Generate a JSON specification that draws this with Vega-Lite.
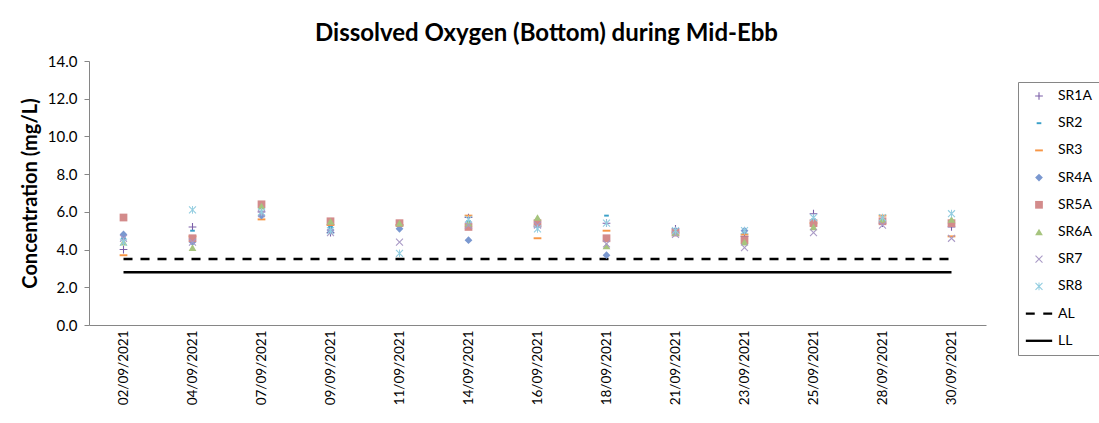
{
  "$schema": "https://vega.github.io/schema/vega-lite/v6.json",
  "width": 897,
  "height": 264,
  "autosize": {"type": "none"},
  "padding": {"left": 89, "top": 61, "right": 113, "bottom": 98},
  "background": "white",
  "config": {"view": {"stroke": null}, "font": "Lato"},
  "title": {"text": "Dissolved Oxygen (Bottom) during Mid-Ebb", "fontSize": 24, "fontWeight": "bold", "font": "Lato", "color": "#000000", "anchor": "middle", "dx": 9, "offset": 8},
  "datasets": {
    "pts": [
      {"d":"02/09/2021","s":"SR1A","v":4.0},{"d":"02/09/2021","s":"SR2","v":4.6},{"d":"02/09/2021","s":"SR3","v":3.7},{"d":"02/09/2021","s":"SR4A","v":4.8},{"d":"02/09/2021","s":"SR5A","v":5.7},{"d":"02/09/2021","s":"SR6A","v":4.4},{"d":"02/09/2021","s":"SR7","v":4.6},{"d":"02/09/2021","s":"SR8","v":4.4},
      {"d":"04/09/2021","s":"SR1A","v":5.2},{"d":"04/09/2021","s":"SR2","v":5.0},{"d":"04/09/2021","s":"SR3","v":4.7},{"d":"04/09/2021","s":"SR4A","v":4.4},{"d":"04/09/2021","s":"SR5A","v":4.6},{"d":"04/09/2021","s":"SR6A","v":4.1},{"d":"04/09/2021","s":"SR7","v":4.4},{"d":"04/09/2021","s":"SR8","v":6.1},
      {"d":"07/09/2021","s":"SR1A","v":6.0},{"d":"07/09/2021","s":"SR2","v":5.8},{"d":"07/09/2021","s":"SR3","v":5.6},{"d":"07/09/2021","s":"SR4A","v":5.8},{"d":"07/09/2021","s":"SR5A","v":6.4},{"d":"07/09/2021","s":"SR6A","v":6.3},{"d":"07/09/2021","s":"SR7","v":5.9},{"d":"07/09/2021","s":"SR8","v":6.0},
      {"d":"09/09/2021","s":"SR1A","v":4.9},{"d":"09/09/2021","s":"SR2","v":5.2},{"d":"09/09/2021","s":"SR3","v":5.3},{"d":"09/09/2021","s":"SR4A","v":5.0},{"d":"09/09/2021","s":"SR5A","v":5.5},{"d":"09/09/2021","s":"SR6A","v":5.5},{"d":"09/09/2021","s":"SR7","v":4.9},{"d":"09/09/2021","s":"SR8","v":5.0},
      {"d":"11/09/2021","s":"SR1A","v":5.3},{"d":"11/09/2021","s":"SR2","v":5.3},{"d":"11/09/2021","s":"SR3","v":5.3},{"d":"11/09/2021","s":"SR4A","v":5.1},{"d":"11/09/2021","s":"SR5A","v":5.4},{"d":"11/09/2021","s":"SR6A","v":5.4},{"d":"11/09/2021","s":"SR7","v":4.4},{"d":"11/09/2021","s":"SR8","v":3.8},
      {"d":"14/09/2021","s":"SR1A","v":5.7},{"d":"14/09/2021","s":"SR2","v":5.5},{"d":"14/09/2021","s":"SR3","v":5.8},{"d":"14/09/2021","s":"SR4A","v":4.5},{"d":"14/09/2021","s":"SR5A","v":5.2},{"d":"14/09/2021","s":"SR6A","v":5.4},{"d":"14/09/2021","s":"SR7","v":5.3},{"d":"14/09/2021","s":"SR8","v":5.6},
      {"d":"16/09/2021","s":"SR1A","v":5.2},{"d":"16/09/2021","s":"SR2","v":5.3},{"d":"16/09/2021","s":"SR3","v":4.6},{"d":"16/09/2021","s":"SR4A","v":5.3},{"d":"16/09/2021","s":"SR5A","v":5.4},{"d":"16/09/2021","s":"SR6A","v":5.7},{"d":"16/09/2021","s":"SR7","v":5.3},{"d":"16/09/2021","s":"SR8","v":5.1},
      {"d":"18/09/2021","s":"SR1A","v":5.4},{"d":"18/09/2021","s":"SR2","v":5.8},{"d":"18/09/2021","s":"SR3","v":5.0},{"d":"18/09/2021","s":"SR4A","v":3.7},{"d":"18/09/2021","s":"SR5A","v":4.6},{"d":"18/09/2021","s":"SR6A","v":4.2},{"d":"18/09/2021","s":"SR7","v":4.3},{"d":"18/09/2021","s":"SR8","v":5.4},
      {"d":"21/09/2021","s":"SR1A","v":5.1},{"d":"21/09/2021","s":"SR2","v":5.0},{"d":"21/09/2021","s":"SR3","v":4.9},{"d":"21/09/2021","s":"SR4A","v":5.0},{"d":"21/09/2021","s":"SR5A","v":4.9},{"d":"21/09/2021","s":"SR6A","v":4.9},{"d":"21/09/2021","s":"SR7","v":4.8},{"d":"21/09/2021","s":"SR8","v":5.0},
      {"d":"23/09/2021","s":"SR1A","v":4.7},{"d":"23/09/2021","s":"SR2","v":4.9},{"d":"23/09/2021","s":"SR3","v":4.8},{"d":"23/09/2021","s":"SR4A","v":5.0},{"d":"23/09/2021","s":"SR5A","v":4.5},{"d":"23/09/2021","s":"SR6A","v":4.4},{"d":"23/09/2021","s":"SR7","v":4.1},{"d":"23/09/2021","s":"SR8","v":5.0},
      {"d":"25/09/2021","s":"SR1A","v":5.9},{"d":"25/09/2021","s":"SR2","v":5.6},{"d":"25/09/2021","s":"SR3","v":5.4},{"d":"25/09/2021","s":"SR4A","v":5.3},{"d":"25/09/2021","s":"SR5A","v":5.4},{"d":"25/09/2021","s":"SR6A","v":5.2},{"d":"25/09/2021","s":"SR7","v":4.9},{"d":"25/09/2021","s":"SR8","v":5.7},
      {"d":"28/09/2021","s":"SR1A","v":5.4},{"d":"28/09/2021","s":"SR2","v":5.6},{"d":"28/09/2021","s":"SR3","v":5.8},{"d":"28/09/2021","s":"SR4A","v":5.5},{"d":"28/09/2021","s":"SR5A","v":5.5},{"d":"28/09/2021","s":"SR6A","v":5.6},{"d":"28/09/2021","s":"SR7","v":5.3},{"d":"28/09/2021","s":"SR8","v":5.7},
      {"d":"30/09/2021","s":"SR1A","v":5.2},{"d":"30/09/2021","s":"SR2","v":5.5},{"d":"30/09/2021","s":"SR3","v":4.7},{"d":"30/09/2021","s":"SR4A","v":5.4},{"d":"30/09/2021","s":"SR5A","v":5.4},{"d":"30/09/2021","s":"SR6A","v":5.6},{"d":"30/09/2021","s":"SR7","v":4.6},{"d":"30/09/2021","s":"SR8","v":5.9}
    ],
    "lims": [
      {"d":"02/09/2021","s":"AL","v":3.5},{"d":"04/09/2021","s":"AL","v":3.5},{"d":"07/09/2021","s":"AL","v":3.5},{"d":"09/09/2021","s":"AL","v":3.5},{"d":"11/09/2021","s":"AL","v":3.5},{"d":"14/09/2021","s":"AL","v":3.5},{"d":"16/09/2021","s":"AL","v":3.5},{"d":"18/09/2021","s":"AL","v":3.5},{"d":"21/09/2021","s":"AL","v":3.5},{"d":"23/09/2021","s":"AL","v":3.5},{"d":"25/09/2021","s":"AL","v":3.5},{"d":"28/09/2021","s":"AL","v":3.5},{"d":"30/09/2021","s":"AL","v":3.5},
      {"d":"02/09/2021","s":"LL","v":2.8},{"d":"04/09/2021","s":"LL","v":2.8},{"d":"07/09/2021","s":"LL","v":2.8},{"d":"09/09/2021","s":"LL","v":2.8},{"d":"11/09/2021","s":"LL","v":2.8},{"d":"14/09/2021","s":"LL","v":2.8},{"d":"16/09/2021","s":"LL","v":2.8},{"d":"18/09/2021","s":"LL","v":2.8},{"d":"21/09/2021","s":"LL","v":2.8},{"d":"23/09/2021","s":"LL","v":2.8},{"d":"25/09/2021","s":"LL","v":2.8},{"d":"28/09/2021","s":"LL","v":2.8},{"d":"30/09/2021","s":"LL","v":2.8}
    ]
  },
  "encoding": {
    "x": {"field": "d", "type": "nominal",
      "sort": ["02/09/2021","04/09/2021","07/09/2021","09/09/2021","11/09/2021","14/09/2021","16/09/2021","18/09/2021","21/09/2021","23/09/2021","25/09/2021","28/09/2021","30/09/2021"],
      "scale": {"type": "point", "padding": 0.5},
      "axis": {"title": null, "labelAngle": -90, "labelFontSize": 13.5, "labelColor": "#000000", "ticks": false, "domainColor": "#868686", "labelPadding": 5}},
    "y": {"field": "v", "type": "quantitative", "scale": {"domain": [0, 14], "nice": false},
      "axis": {"values": [0, 2, 4, 6, 8, 10, 12, 14], "format": ".1f", "grid": false, "tickSize": 5, "tickColor": "#868686", "domainColor": "#868686", "labelFontSize": 15, "labelColor": "#000000", "labelPadding": 7,
        "title": "Concentration (mg/L)", "titleFontSize": 20, "titleFontWeight": "bold", "titleColor": "#000000", "titleX": -59, "titleY": 132, "titleAngle": -90, "titleAlign": "center", "titleBaseline": "middle"}}
  },
  "layer": [
    {
      "data": {"name": "lims"},
      "mark": {"type": "line", "color": "#000000", "strokeWidth": 2.5},
      "encoding": {
        "strokeDash": {"field": "s", "type": "nominal", "scale": {"domain": ["AL", "LL"], "range": [[9, 8], [1, 0]]}, "legend": null}
      }
    },
    {
      "data": {"name": "pts"},
      "mark": {"type": "point", "filled": true, "opacity": 1, "size": 60, "strokeWidth": 0},
      "encoding": {
        "shape": {"field": "s", "type": "nominal",
          "scale": {"domain": ["SR1A","SR2","SR3","SR4A","SR5A","SR6A","SR7","SR8","AL","LL"],
            "range": [
              "M-1,-0.14H1V0.14H-1Z M-0.14,-1H0.14V1H-0.14Z",
              "M-0.6,-0.25H0.6V0.25H-0.6Z",
              "M-1,-0.25H1V0.25H-1Z",
              "diamond",
              "square",
              "triangle-up",
              "M-1,-0.8L-0.8,-1L1,0.8L0.8,1Z M0.8,-1L1,-0.8L-0.8,1L-1,0.8Z",
              "M-1,-0.8L-0.8,-1L1,0.8L0.8,1Z M0.8,-1L1,-0.8L-0.8,1L-1,0.8Z M-0.12,-1H0.12V1H-0.12Z",
              "M-3.4,-0.3H-1.1V0.3H-3.4Z M1.1,-0.3H3.4V0.3H1.1Z",
              "M-3.4,-0.3H3.4V0.3H-3.4Z"
            ]},
          "legend": {"title": null, "orient": "none", "legendX": 929, "legendY": 21, "symbolSize": 60, "labelFontSize": 14, "labelColor": "#000000", "rowPadding": 13.2, "padding": 7, "symbolOffset": 7, "labelOffset": 12, "strokeColor": "#868686", "fillColor": "#ffffff", "symbolStrokeWidth": 0, "symbolOpacity": 1}},
        "color": {"field": "s", "type": "nominal",
          "scale": {"domain": ["SR1A","SR2","SR3","SR4A","SR5A","SR6A","SR7","SR8","AL","LL"],
            "range": ["#7B5EA8","#3AA0C8","#F79646","#7A98D0","#D38B8B","#A6C47E","#A99AC6","#92CDE0","#000000","#000000"]},
          "legend": {"title": null, "orient": "none", "legendX": 929, "legendY": 21, "symbolSize": 60, "labelFontSize": 14, "labelColor": "#000000", "rowPadding": 13.2, "padding": 7, "symbolOffset": 7, "labelOffset": 12, "strokeColor": "#868686", "fillColor": "#ffffff", "symbolStrokeWidth": 0, "symbolOpacity": 1}}
      }
    }
  ]
}
